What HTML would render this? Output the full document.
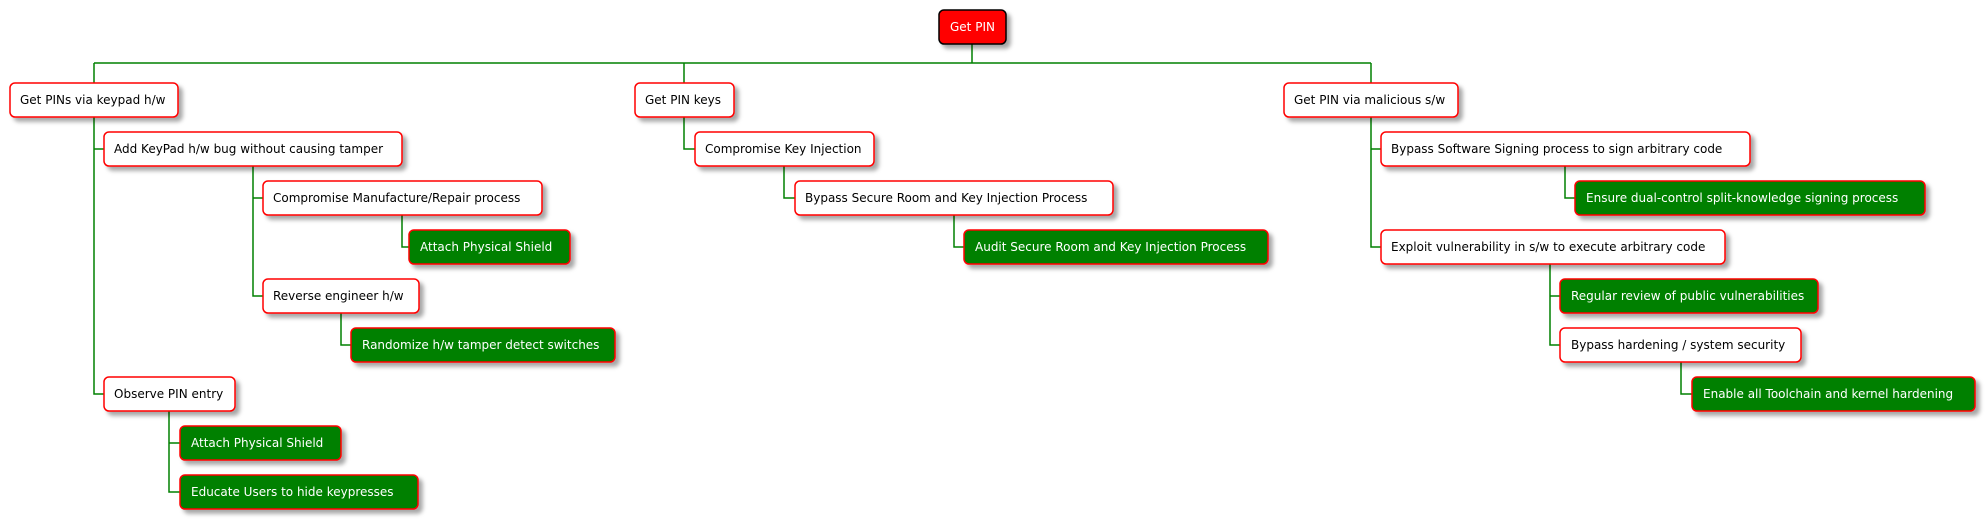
<!DOCTYPE html>
<html><head><meta charset="utf-8"><style>
html,body{margin:0;padding:0;background:#fff;}
svg{display:block;}
text{font-family:"DejaVu Sans","Liberation Sans",sans-serif;font-size:12px;}
</style></head><body>
<svg width="1985" height="519" viewBox="0 0 1985 519" xmlns="http://www.w3.org/2000/svg">
<defs>
<filter id="sh" x="-10%" y="-30%" width="130%" height="180%">
<feGaussianBlur in="SourceAlpha" stdDeviation="2"/>
<feOffset dx="4" dy="4" result="b"/>
<feFlood flood-color="#000" flood-opacity="0.35"/>
<feComposite in2="b" operator="in"/>
<feMerge><feMergeNode/><feMergeNode in="SourceGraphic"/></feMerge>
</filter>
</defs>
<g stroke="#008000" stroke-width="1.5" fill="none">
<path d="M972 44V63M94 63H1371M94 63V83M684 63V83M1371 63V83"/>
<path d="M94 117V394H104M94 149H104"/>
<path d="M253 166V296H263M253 198H263"/>
<path d="M402 215V247H409"/>
<path d="M341 313V345H351"/>
<path d="M169 411V492H180M169 443H180"/>
<path d="M684 117V149H695"/>
<path d="M784 166V198H795"/>
<path d="M954 215V247H964"/>
<path d="M1371 117V247H1381M1371 149H1381"/>
<path d="M1565 166V198H1575"/>
<path d="M1550 264V345H1560M1550 296H1560"/>
<path d="M1681 362V394H1692"/>
</g>
<g filter="url(#sh)" stroke-width="1.5">
<rect x="939" y="10" width="67" height="34" rx="5" fill="#ff0000" stroke="#000"/>
<g fill="#fff" stroke="#ff0000">
<rect x="10" y="83" width="168" height="34" rx="5"/>
<rect x="635" y="83" width="99" height="34" rx="5"/>
<rect x="1284" y="83" width="174" height="34" rx="5"/>
<rect x="104" y="132" width="298" height="34" rx="5"/>
<rect x="263" y="181" width="279" height="34" rx="5"/>
<rect x="263" y="279" width="156" height="34" rx="5"/>
<rect x="104" y="377" width="131" height="34" rx="5"/>
<rect x="695" y="132" width="179" height="34" rx="5"/>
<rect x="795" y="181" width="318" height="34" rx="5"/>
<rect x="1381" y="132" width="369" height="34" rx="5"/>
<rect x="1381" y="230" width="344" height="34" rx="5"/>
<rect x="1560" y="328" width="241" height="34" rx="5"/>
</g>
<g fill="#008000" stroke="#ff0000">
<rect x="409" y="230" width="161" height="34" rx="5"/>
<rect x="351" y="328" width="264" height="34" rx="5"/>
<rect x="180" y="426" width="161" height="34" rx="5"/>
<rect x="180" y="475" width="238" height="34" rx="5"/>
<rect x="964" y="230" width="304" height="34" rx="5"/>
<rect x="1575" y="181" width="350" height="34" rx="5"/>
<rect x="1560" y="279" width="258" height="34" rx="5"/>
<rect x="1692" y="377" width="283" height="34" rx="5"/>
</g>
</g>
<g dominant-baseline="central">
<text x="950" y="27" fill="#fff">Get PIN</text>
<g fill="#000">
<text x="20" y="100">Get PINs via keypad h/w</text>
<text x="645" y="100">Get PIN keys</text>
<text x="1294" y="100">Get PIN via malicious s/w</text>
<text x="114" y="149">Add KeyPad h/w bug without causing tamper</text>
<text x="273" y="198">Compromise Manufacture/Repair process</text>
<text x="273" y="296">Reverse engineer h/w</text>
<text x="114" y="394">Observe PIN entry</text>
<text x="705" y="149">Compromise Key Injection</text>
<text x="805" y="198">Bypass Secure Room and Key Injection Process</text>
<text x="1391" y="149">Bypass Software Signing process to sign arbitrary code</text>
<text x="1391" y="247">Exploit vulnerability in s/w to execute arbitrary code</text>
<text x="1571" y="345">Bypass hardening / system security</text>
</g>
<g fill="#fff">
<text x="420" y="247">Attach Physical Shield</text>
<text x="362" y="345">Randomize h/w tamper detect switches</text>
<text x="191" y="443">Attach Physical Shield</text>
<text x="191" y="492">Educate Users to hide keypresses</text>
<text x="975" y="247">Audit Secure Room and Key Injection Process</text>
<text x="1586" y="198">Ensure dual-control split-knowledge signing process</text>
<text x="1571" y="296">Regular review of public vulnerabilities</text>
<text x="1703" y="394">Enable all Toolchain and kernel hardening</text>
</g>
</g>
</svg>
</body></html>
